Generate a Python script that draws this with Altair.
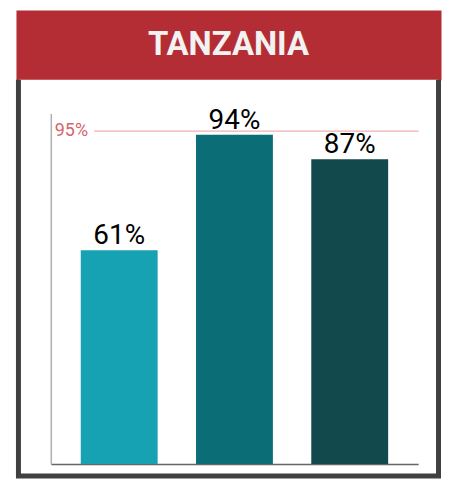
import altair as alt
import pandas as pd

# ---- data ----
title_text = ["TANZANIA"]
categories = ["Know status", "On treatment", "Virally suppressed"]
values = [61, 94, 87]
labels = ["61%", "94%", "87%"]
bar_colors = ["#16a2b3", "#0b6e77", "#11494d"]
target_value = [95]
target_label = ["95%"]

FONT = "Roboto, sans-serif"

bars_df = pd.DataFrame({"cat": categories, "value": values, "label": labels})
target_df = pd.DataFrame({"value": target_value, "label": target_label})
title_df = pd.DataFrame({"title": title_text})

HEAD_W = 427
HEAD_H = 70
BODY_W = 422
BODY_H = 398
AXIS_Y = 386   # x-axis line position inside the body view

x_enc = alt.X(
    "cat:N",
    sort=None,
    scale=alt.Scale(range=[32.5, 401.5], paddingInner=0.333, paddingOuter=0.26),
    axis=alt.Axis(
        title=None, labels=False, ticks=False, grid=False,
        domainColor="#666666", domainWidth=1.5, offset=-(BODY_H - AXIS_Y),
    ),
)
y_scale = alt.Scale(domain=[0, 100], range=[AXIS_Y, 34], nice=False)
y_enc = alt.Y(
    "value:Q",
    scale=y_scale,
    axis=alt.Axis(
        title=None, labels=False, ticks=False, grid=False,
        domainColor="#b0b0b0", domainWidth=1.5, offset=-32.5,
    ),
)

bars = alt.Chart(bars_df).mark_bar().encode(
    x=x_enc,
    y=y_enc,
    color=alt.Color("cat:N", sort=None,
                    scale=alt.Scale(domain=categories, range=bar_colors),
                    legend=None),
)

bar_text = alt.Chart(bars_df).mark_text(
    font=FONT, fontSize=28, color="#000000", baseline="alphabetic", dy=-6
).encode(
    x=alt.X("cat:N", sort=None),
    y=alt.Y("value:Q"),
    text="label:N",
)

rule = alt.Chart(target_df).mark_rule(color="#efb0b3", strokeWidth=1.2).encode(
    y=alt.Y("value:Q"),
    x=alt.value(76),
    x2=alt.value(402),
)

rule_text = alt.Chart(target_df).mark_text(
    font=FONT, fontSize=18, color="#d6646b", align="left", baseline="middle"
).encode(
    y=alt.Y("value:Q"),
    x=alt.value(36.5),
    text="label:N",
)

body = alt.layer(bars, rule, bar_text, rule_text).properties(
    width=BODY_W,
    height=BODY_H,
    view=alt.ViewBackground(
        fill="#ffffff",
        stroke="#404040",
        strokeWidth=5,
        strokeDash=[0, BODY_W, 2 * BODY_H + BODY_W, 0],
    ),
)

header = alt.Chart(title_df).mark_text(
    font=FONT, fontSize=33, fontWeight="bold", color="#f2f2f2", baseline="middle"
).encode(text="title:N").properties(
    width=HEAD_W,
    height=HEAD_H,
    view=alt.ViewBackground(fill="#b52d34", stroke="transparent"),
)

chart = alt.vconcat(header, body, spacing=0, bounds="flush", center=True).properties(
    padding={"left": 7, "top": 0, "right": 0, "bottom": 2}
).configure_view(stroke="transparent")

chart.save("out.html", embed_options={"renderer": "svg", "actions": False})
